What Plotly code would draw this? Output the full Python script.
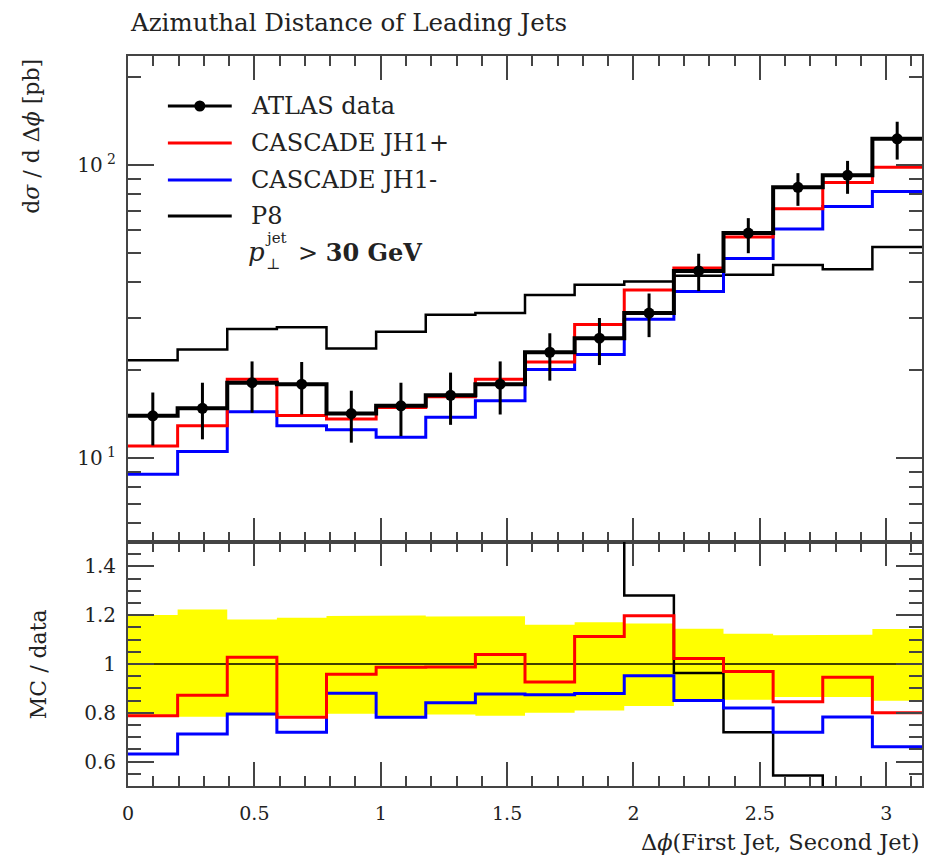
import numpy as np
import plotly.graph_objects as go

# ---------------- data ----------------
bin_edges = list(np.linspace(0.0, np.pi, 17))
data = [13.96, 14.8, 18.1, 17.9, 14.2, 15.1, 16.4, 17.9, 23.0, 25.7, 31.3, 43.6, 58.7, 84.1, 92.4, 123.1]
data_err_up = [2.8, 3.3, 3.3, 3.4, 2.8, 3.0, 3.2, 3.5, 3.7, 4.4, 5.2, 6.3, 7.3, 9.9, 11.1, 17.7]
data_err_dn = [2.9, 3.2, 3.8, 3.8, 2.9, 3.2, 3.4, 3.8, 4.6, 4.9, 5.4, 6.4, 8.6, 11.4, 12.5, 18.5]
jh1_plus = [11.0, 12.9, 18.6, 14.0, 13.6, 14.9, 16.2, 18.6, 21.3, 28.6, 37.5, 44.6, 56.9, 71.1, 87.4, 98.5]
jh1_minus = [8.81, 10.55, 14.4, 12.9, 12.5, 11.8, 13.8, 15.7, 20.1, 22.6, 29.8, 37.1, 48.1, 60.6, 72.3, 81.4]
p8 = [21.6, 23.5, 27.6, 28.0, 23.7, 27.0, 30.9, 31.3, 36.1, 39.1, 40.1, 42.0, 42.3, 45.7, 44.2, 52.6]

x_tick_vals = [0, 0.5, 1, 1.5, 2, 2.5, 3]
x_tick_text = ["0", "0.5", "1", "1.5", "2", "2.5", "3"]
y_main_ticks = [10, 100]
y_main_text = ["10<sup> 1</sup>", "10<sup> 2</sup>"]
y_main_minor = [6, 7, 8, 9, 20, 30, 40, 50, 60, 70, 80, 90, 200]
ratio_ticks = [0.6, 0.8, 1.0, 1.2, 1.4]
ratio_text = ["0.6", "0.8", "1", "1.2", "1.4"]

legend_labels = ["ATLAS data", "CASCADE JH1+", "CASCADE JH1-", "P8"]
title_text = "Azimuthal Distance of Leading Jets"

RED = "#ff0000"
BLUE = "#0000ff"
BLACK = "#000000"
FONT = "DejaVu Serif"
AXC = "#444444"

# ---------------- helpers ----------------
edges = np.array(bin_edges)
centers = 0.5 * (edges[:-1] + edges[1:])


def step(vals):
    v = list(vals)
    return list(edges), v + [v[-1]]


d = np.array(data)
ratio = lambda arr: list(np.array(arr) / d)

fig = go.Figure()

# ---- main panel ----
for vals, col, w in [(p8, BLACK, 2.5), (jh1_minus, BLUE, 3), (jh1_plus, RED, 3)]:
    xs, ys = step(vals)
    fig.add_trace(go.Scatter(x=xs, y=ys, mode="lines", line=dict(color=col, width=w, shape="hv"),
                             xaxis="x", yaxis="y", showlegend=False, hoverinfo="skip"))

xs, ys = step(data)
fig.add_trace(go.Scatter(x=xs, y=ys, mode="lines", line=dict(color=BLACK, width=4, shape="hv"),
                         xaxis="x", yaxis="y", showlegend=False, hoverinfo="skip"))
fig.add_trace(go.Scatter(x=list(centers), y=data, mode="markers",
                         marker=dict(color=BLACK, size=11),
                         error_y=dict(type="data", symmetric=False, array=data_err_up,
                                      arrayminus=data_err_dn, color=BLACK, thickness=3, width=0),
                         xaxis="x", yaxis="y", showlegend=False))

# ---- ratio panel ----
band_up = list((d + np.array(data_err_up)) / d)
band_dn = list((d - np.array(data_err_dn)) / d)
bx, by = [], []
for i in range(len(data)):
    bx += [edges[i], edges[i + 1]]
    by += [band_up[i], band_up[i]]
for i in reversed(range(len(data))):
    bx += [edges[i + 1], edges[i]]
    by += [band_dn[i], band_dn[i]]
fig.add_trace(go.Scatter(x=bx, y=by, mode="lines", fill="toself", fillcolor="#ffff00",
                         line=dict(width=0, color="#ffff00"), xaxis="x2", yaxis="y2",
                         showlegend=False, hoverinfo="skip"))
xs, ys = step(ratio(data))
fig.add_trace(go.Scatter(x=xs, y=ys, mode="lines", line=dict(color=BLACK, width=1.5, shape="hv"),
                         xaxis="x2", yaxis="y2", showlegend=False, hoverinfo="skip"))
for vals, col, w in [(p8, BLACK, 2.5), (jh1_minus, BLUE, 3), (jh1_plus, RED, 3)]:
    xs, ys = step(ratio(vals))
    fig.add_trace(go.Scatter(x=xs, y=ys, mode="lines", line=dict(color=col, width=w, shape="hv"),
                             xaxis="x2", yaxis="y2", showlegend=False, hoverinfo="skip"))

# ---------------- layout ----------------
W, H = 926, 858
L, R, T, B = 128, 2, 56, 72
PW, PH = W - L - R, H - T - B
split = 244 / PH


def px(p):
    return (p - L) / PW


def py(p):
    return (H - B - p) / PH


common_x = dict(range=[0, np.pi], showgrid=False, zeroline=False, showline=True, linecolor=AXC,
                linewidth=2, mirror="ticks", ticks="inside", ticklen=24, tickwidth=1.5,
                tickcolor=AXC, tickvals=x_tick_vals,
                minor=dict(dtick=0.1, tick0=0, ticks="inside", ticklen=10, tickwidth=1.5,
                           tickcolor=AXC, showgrid=False))

fig.update_layout(
    width=W, height=H, margin=dict(l=L, r=R, t=T, b=B),
    paper_bgcolor="white", plot_bgcolor="white",
    font=dict(family=FONT, color="#222222"),
    xaxis=dict(common_x, domain=[0, 1], anchor="y", showticklabels=False),
    yaxis=dict(type="log", domain=[split, 1], anchor="x", range=[0.714, 2.373],
               showgrid=False, zeroline=False, showline=True, linecolor=AXC, linewidth=2,
               mirror="ticks", ticks="inside", ticklen=26, tickwidth=1.5, tickcolor=AXC,
               tickvals=y_main_ticks, ticktext=y_main_text, tickfont=dict(size=20),
               ticklabelstandoff=6,
               minor=dict(tickvals=y_main_minor, ticks="inside", ticklen=13, tickwidth=1.5,
                          tickcolor=AXC, showgrid=False)),
    xaxis2=dict(common_x, domain=[0, 1], anchor="y2", ticktext=x_tick_text,
                tickfont=dict(size=19), ticklabelstandoff=9),
    yaxis2=dict(domain=[0, split], anchor="x2", range=[0.5, 1.5], showgrid=False, zeroline=False,
                showline=True, linecolor=AXC, linewidth=2, mirror="ticks", ticks="inside",
                ticklen=26, tickwidth=1.5, tickcolor=AXC, tickvals=ratio_ticks,
                ticktext=ratio_text, tickfont=dict(size=20), ticklabelstandoff=6,
                minor=dict(dtick=0.05, tick0=0, ticks="inside", ticklen=13, tickwidth=1.5,
                           tickcolor=AXC, showgrid=False)),
)

ann = []
ann.append(dict(text=title_text, x=0, xref="paper", xanchor="left", y=py(22), yref="paper",
                yanchor="middle", showarrow=False, font=dict(size=24.5)))
ann.append(dict(text="Δ<i>ϕ</i>(First Jet, Second Jet)", x=px(923), xref="paper", xanchor="right",
                y=py(842), yref="paper", yanchor="middle", showarrow=False, font=dict(size=22.5)))
ann.append(dict(text="d<i>σ</i> / d Δ<i>ϕ</i> [pb]", x=px(31), xref="paper", xanchor="center",
                y=py(57), yref="paper", yanchor="top", textangle=-90, showarrow=False,
                font=dict(size=22)))
ann.append(dict(text="MC / data", x=px(38), xref="paper", xanchor="center",
                y=py(664), yref="paper", yanchor="middle", textangle=-90, showarrow=False,
                font=dict(size=22)))

# legend (manual)
rows = [106, 143, 180, 216]
cols = [BLACK, RED, BLUE, BLACK]
widths = [3, 3, 3, 3]
shapes = []
for lab, yy, c, w in zip(legend_labels, rows, cols, widths):
    shapes.append(dict(type="line", xref="paper", yref="paper", x0=px(168), x1=px(232),
                       y0=py(yy), y1=py(yy), line=dict(color=c, width=w)))
    ann.append(dict(text=lab, x=px(249), xref="paper", xanchor="left", y=py(yy), yref="paper",
                    yanchor="middle", showarrow=False, font=dict(size=24)))
shapes.append(dict(type="circle", xref="paper", yref="paper", xsizemode="pixel",
                   ysizemode="pixel", xanchor=px(200), yanchor=py(rows[0]), x0=-5.5, x1=5.5,
                   y0=-5.5, y1=5.5, fillcolor=BLACK, line=dict(color=BLACK, width=0)))

ann.append(dict(text="<i>p</i>", x=px(246), xref="paper", xanchor="left", y=py(252),
                yref="paper", yanchor="middle", showarrow=False, font=dict(size=26)))
ann.append(dict(text="jet", x=px(263), xref="paper", xanchor="left", y=py(238),
                yref="paper", yanchor="middle", showarrow=False, font=dict(size=15)))
ann.append(dict(text="⊥", x=px(264), xref="paper", xanchor="left", y=py(264),
                yref="paper", yanchor="middle", showarrow=False, font=dict(size=15)))
ann.append(dict(text="&gt; <b>30 GeV</b>", x=px(296), xref="paper", xanchor="left", y=py(253),
                yref="paper", yanchor="middle", showarrow=False, font=dict(size=24)))

fig.update_layout(annotations=ann, shapes=shapes)
fig.write_html("out.html")
